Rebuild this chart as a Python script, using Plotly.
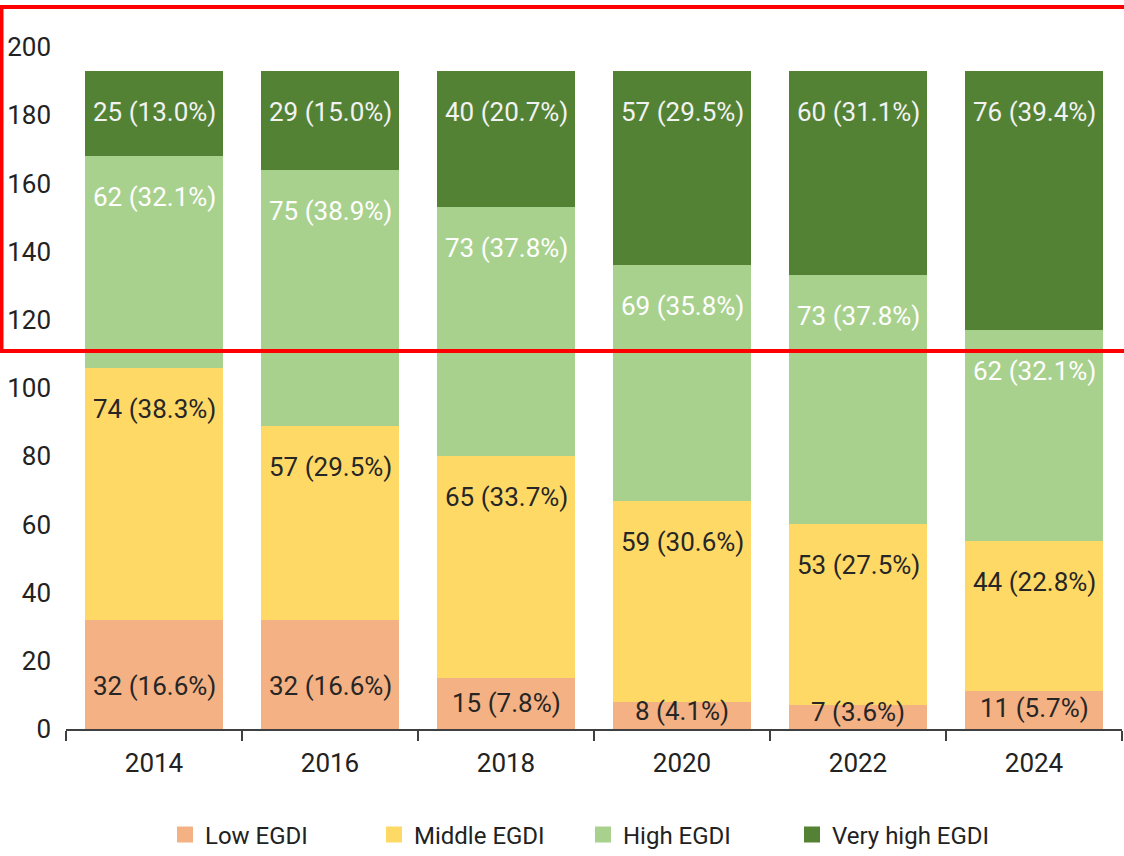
import plotly.graph_objects as go

years = ["2014", "2016", "2018", "2020", "2022", "2024"]
low = [32, 32, 15, 8, 7, 11]
middle = [74, 57, 65, 59, 53, 44]
high = [62, 75, 73, 69, 73, 62]
very_high = [25, 29, 40, 57, 60, 76]
low_pct = [16.6, 16.6, 7.8, 4.1, 3.6, 5.7]
middle_pct = [38.3, 29.5, 33.7, 30.6, 27.5, 22.8]
high_pct = [32.1, 38.9, 37.8, 35.8, 37.8, 32.1]
very_high_pct = [13.0, 15.0, 20.7, 29.5, 31.1, 39.4]
series_names = ["Low EGDI", "Middle EGDI", "High EGDI", "Very high EGDI"]

colors = ["#F4B183", "#FFD966", "#A9D18E", "#548235"]
text_colors = ["#262626", "#262626", "#FFFFFF", "#F2F2F2"]
FONT = "Roboto, Liberation Sans Narrow, sans-serif"
FS = 26

values = [low, middle, high, very_high]
pcts = [low_pct, middle_pct, high_pct, very_high_pct]

fig = go.Figure()
for name, vals, col in zip(series_names, values, colors):
    fig.add_trace(go.Bar(x=years, y=vals, name=name, marker=dict(color=col, line=dict(width=0)),
                         showlegend=False, hoverinfo="x+y+name"))
# legend proxies with bigger square markers
for name, col in zip(series_names, colors):
    fig.add_trace(go.Scatter(x=[years[0]], y=[-100], mode="markers", name=name,
                             marker=dict(symbol="square", size=24, color=col), hoverinfo="skip"))

annotations = []
cum = [0] * len(years)
for si, (vals, pc) in enumerate(zip(values, pcts)):
    for i, y in enumerate(years):
        top = cum[i] + vals[i]
        txt = f"{vals[i]} ({pc[i]:.1f}%)"
        if si == 0:
            ypos, shift = vals[i] * 0.3 + 3, 0
        else:
            ypos, shift = top, -41
        annotations.append(dict(x=i, y=ypos, yshift=shift, text=txt, showarrow=False,
                                xref="x", yref="y", yanchor="middle",
                                font=dict(family=FONT, size=FS, color=text_colors[si])))
        cum[i] = top

W, H = 1124, 856
ml, mr, mt, mb = 66, 2, 47, 127
pw, ph = W - ml - mr, H - mt - mb

def px_x(p):
    return (p - ml) / pw

def px_y(p):
    return (H - mb - p) / ph

fig.update_layout(
    width=W, height=H,
    margin=dict(l=ml, r=mr, t=mt, b=mb, autoexpand=False),
    barmode="stack", bargap=0.22,
    plot_bgcolor="white", paper_bgcolor="white",
    font=dict(family=FONT, size=FS, color="#222222"),
    xaxis=dict(type="category", categoryorder="array", categoryarray=years, range=[-0.5, 5.5],
               automargin=False,
               showgrid=False, showline=True, linecolor="#404040", linewidth=2,
               ticks="outside", tickson="boundaries", ticklen=10, tickwidth=2, tickcolor="#404040",
               tickangle=0, tickfont=dict(size=FS, family=FONT, color="#222222"), ticklabelstandoff=10),
    yaxis=dict(range=[0, 200], dtick=20, showgrid=False, showline=False, zeroline=False,
               automargin=False,
               ticks="", tickfont=dict(size=FS, family=FONT, color="#222222"), ticklabelstandoff=14),
    legend=dict(orientation="h", xref="container", yref="container",
                x=583 / W, xanchor="center", y=1 - 835 / H, yanchor="middle",
                traceorder="normal",
                font=dict(size=24, family=FONT, color="#222222"), entrywidth=164,
                itemsizing="trace", bgcolor="rgba(0,0,0,0)"),
    annotations=annotations,
    shapes=[dict(type="rect", xref="paper", yref="paper",
                 x0=px_x(1.5), x1=px_x(1127), y0=px_y(7), y1=px_y(351),
                 line=dict(color="#FF0000", width=4), fillcolor="rgba(0,0,0,0)", layer="above")],
)

fig.write_html("out.html", config={"displayModeBar": False},
               post_script="document.body.style.margin='0';")
